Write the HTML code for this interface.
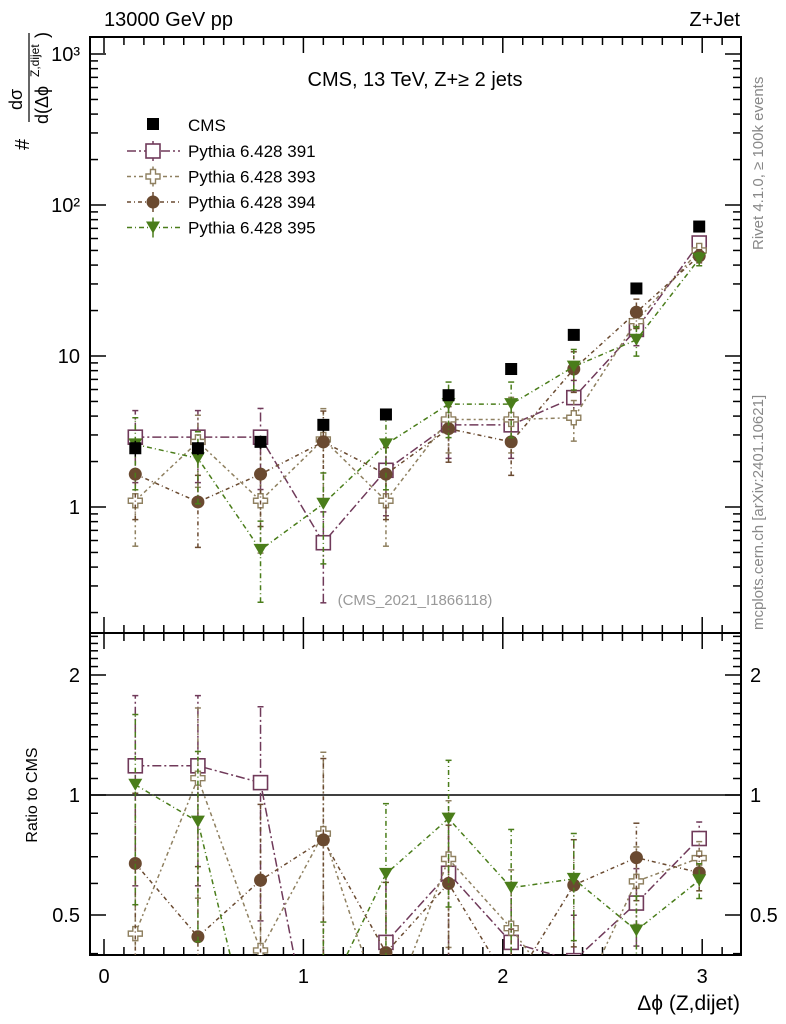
<!DOCTYPE html>
<html><head><meta charset="utf-8">
<style>
body{margin:0;background:#fff;overflow:hidden;}
svg{display:block;font-family:"Liberation Sans",sans-serif;}
</style></head>
<body>
<svg id="c" width="786" height="1024" xmlns="http://www.w3.org/2000/svg"></svg>
<script>
const categories=[0.157,0.471,0.785,1.100,1.414,1.728,2.042,2.356,2.670,2.985];
const cmsVals=[2.45,2.45,2.7,3.5,4.1,5.5,8.2,13.8,28,72];
const cmsErr=[0.12,0.1,0.1,0.1,0.08,0.08,0.06,0.05,0.05,0.04];
const s391=[2.9,2.9,2.9,0.58,1.75,3.5,3.5,5.3,15,56];
const s393=[1.1,2.7,1.1,2.8,1.1,3.8,3.8,3.9,17,50];
const s394=[1.65,1.08,1.65,2.7,1.65,3.3,2.7,8.2,19.5,46];
const s395=[2.6,2.1,0.52,1.05,2.6,4.8,4.8,8.5,12.8,44];
const mcErr=[0.5,0.5,0.55,0.6,0.5,0.4,0.4,0.3,0.22,0.1];
const seriesNames=["Pythia 6.428 391","Pythia 6.428 393","Pythia 6.428 394","Pythia 6.428 395"];
const xTicks=[0,1,2,3];
const yTicks=[1,10,100,1000];
const yTickLabels=["1","10","10²","10³"];
const rTicks=[0.5,1,2];

const svg=document.getElementById('c');
const NS="http://www.w3.org/2000/svg";
function el(t,a,p){const e=document.createElementNS(NS,t);for(const k in a)e.setAttribute(k,a[k]);(p||svg).appendChild(e);return e;}
const L=90,R=741,T=37,MB=633,RB=955;
const X=v=>104+v*199.4;
const Y=v=>507-Math.log10(v)*151;
const RY=v=>795-Math.log2(v)*120;

const defs=el('defs',{});
const c1=el('clipPath',{id:'cm'},defs);el('rect',{x:L,y:T,width:R-L,height:MB-T},c1);
const c2=el('clipPath',{id:'cr'},defs);el('rect',{x:L,y:MB,width:R-L,height:RB-MB},c2);

function txt(x,y,s,o,p){const t=el('text',Object.assign({x:x,y:y,'font-size':18,fill:'#000'},o||{}),p);t.textContent=s;return t;}

let f=el('rect',{x:L,y:T,width:R-L,height:MB-T,fill:'none',stroke:'#000','stroke-width':2});

f=el('rect',{x:L,y:MB,width:R-L,height:RB-MB,fill:'none',stroke:'#000','stroke-width':2});


for(let v=0;v<=3.2;v+=0.1){const x=X(v);if(x<L||x>R)continue;const major=Math.abs(v-Math.round(v))<1e-6;const len=major?16:8;
 for(const [yt,yb] of [[T,MB],[MB,RB]]){el('line',{x1:x,y1:yb,x2:x,y2:yb-len,stroke:'#000','stroke-width':1.5});el('line',{x1:x,y1:yt,x2:x,y2:yt+len,stroke:'#000','stroke-width':1.5});}}
xTicks.forEach(v=>{const t=txt(X(v),983,String(v),{'text-anchor':'middle','font-size':20});});
for(let d=-1;d<=3;d++){for(let m=1;m<10;m++){const v=m*Math.pow(10,d);const y=Y(v);if(y<T||y>MB)continue;const len=m==1?16:8;
 el('line',{x1:L,y1:y,x2:L+len,y2:y,stroke:'#000','stroke-width':1.5});el('line',{x1:R,y1:y,x2:R-len,y2:y,stroke:'#000','stroke-width':1.5});}}
yTicks.forEach((v,i)=>{const t=txt(80,Y(v)+7,yTickLabels[i],{'text-anchor':'end','font-size':20});});
for(let v=0.4;v<=2.6;v+=0.1){const y=RY(v);if(y<MB||y>RB)continue;const maj=rTicks.some(r=>Math.abs(r-v)<1e-6);const len=maj?16:8;
 el('line',{x1:L,y1:y,x2:L+len,y2:y,stroke:'#000','stroke-width':1.5});el('line',{x1:R,y1:y,x2:R-len,y2:y,stroke:'#000','stroke-width':1.5});}
rTicks.forEach(v=>{let t=txt(80,RY(v)+7,String(v),{'text-anchor':'end','font-size':20});
 t=txt(750,RY(v)+7,String(v),{'font-size':20});});
let ln=el('line',{x1:L,y1:RY(1),x2:R,y2:RY(1),stroke:'#000','stroke-width':1.5});


let t=txt(104,26,'13000 GeV pp',{'font-size':20});
t=txt(740,26,'Z+Jet',{'font-size':20,'text-anchor':'end'});
t=txt(415,86,'CMS, 13 TeV, Z+≥ 2 jets',{'font-size':20,'text-anchor':'middle'});
t=txt(415,605,'(CMS_2021_I1866118)',{'font-size':15,'text-anchor':'middle',fill:'#999'});
t=txt(740,1010,'Δϕ (Z,dijet)',{'font-size':21,'text-anchor':'end'});
t=txt(0,0,'Ratio to CMS',{'font-size':16,'text-anchor':'middle',transform:'translate(37,795) rotate(-90)'});
const yt=el('g',{transform:'rotate(-90)'});
txt(-150,29,'#',{'font-size':20},yt);
txt(-110,22,'dσ',{'font-size':18},yt);
el('line',{x1:-122,y1:29,x2:-33,y2:29,stroke:'#000','stroke-width':1.2},yt);
txt(-124,48,'d(Δϕ',{'font-size':18},yt);
txt(-77,39,'Z,dijet',{'font-size':12},yt);
txt(-38,48,')',{'font-size':18},yt);
t=txt(0,0,'Rivet 4.1.0, ≥ 100k events',{'font-size':15,fill:'#888',transform:'translate(763,250) rotate(-90)'});
t=txt(0,0,'mcplots.cern.ch [arXiv:2401.10621]',{'font-size':15,fill:'#888',transform:'translate(763,630) rotate(-90)'});

function marker(g,type,x,y,col){
 if(type=='sq')el('rect',{x:x-7,y:y-7,width:14,height:14,fill:'#fff',stroke:col,'stroke-width':1.6},g);
 else if(type=='cross')el('path',{d:`M${x-2.5} ${y-7}h5v4.5h4.5v5h-4.5v4.5h-5v-4.5h-4.5v-5h4.5z`,fill:'#fff',stroke:col,'stroke-width':1.4},g);
 else if(type=='dot')el('circle',{cx:x,cy:y,r:6.5,fill:col},g);
 else if(type=='tri')el('path',{d:`M${x-7} ${y-6}h14l-7 12z`,fill:col},g);
 else if(type=='blk')el('rect',{x:x-6,y:y-6,width:12,height:12,fill:'#000'},g);
}
const series=[{v:s391,c:'#703a5a',m:'sq',d:'9,3,2,3'},{v:s393,c:'#8f8060',m:'cross',d:'4,3,2,3'},{v:s394,c:'#6a4a30',m:'dot',d:'4,3,1,3'},{v:s395,c:'#4a7d1a',m:'tri',d:'5,3,1,3'}];
const keys=['series-391','series-393','series-394','series-395'];
series.forEach((s,si)=>{
 for(const panel of ['main','ratio']){
  const g=el('g',{'clip-path':panel=='main'?'url(#cm)':'url(#cr)'});
  
  
  const yf=panel=='main'?(v=>Y(v)):(v=>RY(v));
  const vals=s.v.map((v,i)=>panel=='main'?v:v/cmsVals[i]);
  const pts=vals.map((v,i)=>[X(categories[i]),yf(v)]);
  el('polyline',{points:pts.map(p=>p.join(',')).join(' '),fill:'none',stroke:s.c,'stroke-width':1.5,'stroke-dasharray':s.d},g);
  vals.forEach((v,i)=>{const lo=v*Math.max(0.02,1-mcErr[i]),hi=v*(1+mcErr[i]);const x=X(categories[i]);
   el('line',{x1:x,y1:yf(lo),x2:x,y2:yf(hi),stroke:s.c,'stroke-width':1.5,'stroke-dasharray':s.d},g);
   el('line',{x1:x-3,y1:yf(hi),x2:x+3,y2:yf(hi),stroke:s.c,'stroke-width':1.5},g);
   el('line',{x1:x-3,y1:yf(lo),x2:x+3,y2:yf(lo),stroke:s.c,'stroke-width':1.5},g);
   marker(g,s.m,x,yf(v),s.c);});
 }
});
const cg=el('g',{'clip-path':'url(#cm)'});


cmsVals.forEach((v,i)=>{const x=X(categories[i]);el('line',{x1:x,y1:Y(v*(1-cmsErr[i])),x2:x,y2:Y(v*(1+cmsErr[i])),stroke:'#000','stroke-width':1.5},cg);marker(cg,'blk',x,Y(v));});

const lg=el('g',{});
marker(lg,'blk',153,124);txt(188,131,'CMS',{'font-size':17},lg);
series.forEach((s,i)=>{const y=151+i*25.5;
 const e=el('g',{},lg);
 el('line',{x1:127,y1:y,x2:180,y2:y,stroke:s.c,'stroke-width':1.5,'stroke-dasharray':s.d},e);
 el('line',{x1:153,y1:y-10,x2:153,y2:y+10,stroke:s.c,'stroke-width':1.5},e);
 marker(e,s.m,153,y,s.c);txt(188,y+6,seriesNames[i],{'font-size':17},e);});
</script>
</body></html>
